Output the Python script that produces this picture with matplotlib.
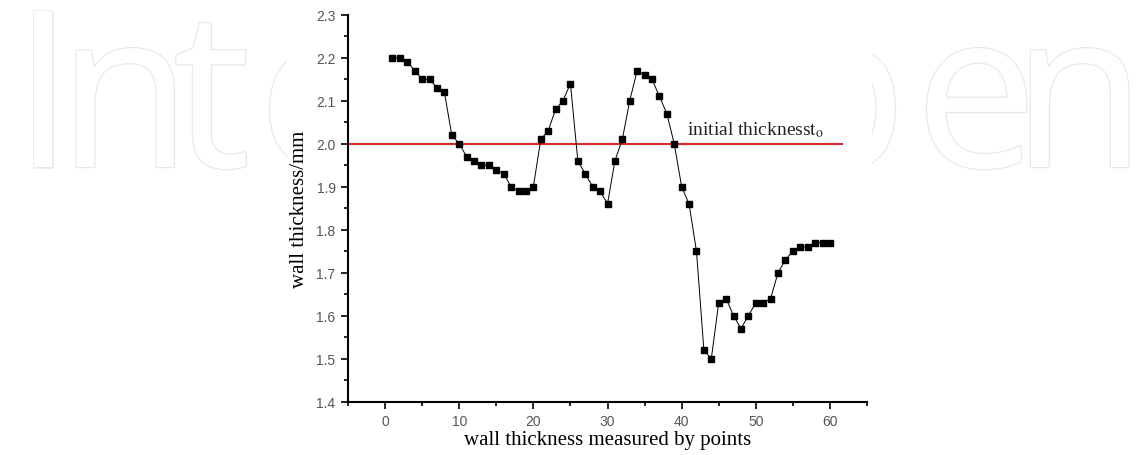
import matplotlib.pyplot as plt
import matplotlib.patheffects as pe
from matplotlib.patches import Rectangle
from matplotlib.ticker import MultipleLocator

# measured wall thickness along the part
points = list(range(1, 61))
thickness = [2.20, 2.20, 2.19, 2.17, 2.15, 2.15, 2.13, 2.12, 2.02, 2.00,
             1.97, 1.96, 1.95, 1.95, 1.94, 1.93, 1.90, 1.89, 1.89, 1.90,
             2.01, 2.03, 2.08, 2.10, 2.14, 1.96, 1.93, 1.90, 1.89, 1.86,
             1.96, 2.01, 2.10, 2.17, 2.16, 2.15, 2.11, 2.07, 2.00, 1.90,
             1.86, 1.75, 1.52, 1.50, 1.63, 1.64, 1.60, 1.57, 1.60, 1.63,
             1.63, 1.64, 1.70, 1.73, 1.75, 1.76, 1.76, 1.77, 1.77, 1.77]

initial_thickness = 2.0
ref_line_x = [-5, 61.6]

plt.rcParams['mathtext.fontset'] = 'stix'

W, H = 1148, 456
fig = plt.figure(figsize=(W / 100, H / 100), dpi=100)

# faint outlined watermark letters (the middle is hidden behind the chart)
outline = [pe.Stroke(linewidth=1.8, foreground="#e9e9e9"), pe.Normal()]
wm_letters = [("I", 13, "left"), ("n", 58, "left"), ("t", 173, "left"),
              ("e", 258, "left"), ("p", 907, "right"), ("e", 915, "left"),
              ("n", 1146, "right")]
for ch, x, ha in wm_letters:
    t = fig.text(x / W, 1 - 168 / H, ch, fontsize=157, family="Open Sans",
                 color="white", ha=ha, va="baseline", zorder=-2)
    t.set_path_effects(outline)
fig.patches.append(Rectangle((287 / W, 0), (872 - 287) / W, 1,
                             transform=fig.transFigure, facecolor="white",
                             edgecolor="none", zorder=-1))

ax = fig.add_axes([348 / W, (H - 402.7) / H, 519 / W, 387 / H])

ax.plot(ref_line_x, [initial_thickness, initial_thickness], color="#d42a2a",
        linewidth=1.5, zorder=2)
ax.plot(points, thickness, color="black", linewidth=0.7, marker="s",
        markersize=5, zorder=3)

ax.text(40.7, 2.022, r"initial thickness$\mathrm{t}_{\mathrm{o}}$",
        family="Liberation Serif", fontsize=14, color="#222222",
        va="baseline")

ax.set_xlim(-5, 65)
ax.set_ylim(1.4, 2.3)
ax.xaxis.set_major_locator(MultipleLocator(10))
ax.xaxis.set_minor_locator(MultipleLocator(5))
ax.yaxis.set_major_locator(MultipleLocator(0.1))
ax.yaxis.set_minor_locator(MultipleLocator(0.05))
ax.yaxis.set_major_formatter(plt.FormatStrFormatter("%.1f"))

ax.spines["top"].set_visible(False)
ax.spines["right"].set_visible(False)
for s in ("left", "bottom"):
    ax.spines[s].set_linewidth(1.5)

ax.tick_params(which="major", direction="out", length=5, width=1.2,
               labelsize=10, labelcolor="#555555", pad=4)
ax.tick_params(which="minor", direction="out", length=3, width=1.2)
for lbl in ax.get_xticklabels() + ax.get_yticklabels():
    lbl.set_family("Liberation Sans")

ax.set_xlabel("wall thickness measured by points", family="Liberation Serif",
              fontsize=15, labelpad=1)
ax.set_ylabel("wall thickness/mm", family="Liberation Serif", fontsize=15,
              labelpad=5)

plt.savefig("out.png", dpi=100)
